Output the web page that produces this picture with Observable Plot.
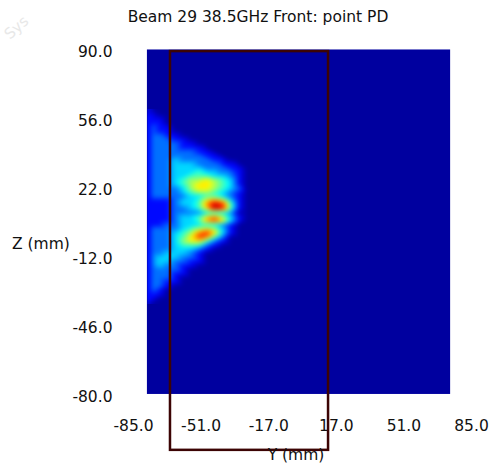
<!DOCTYPE html>
<html><head><meta charset="utf-8">
<script src="https://cdn.jsdelivr.net/npm/d3@7"></script>
<script src="https://cdn.jsdelivr.net/npm/@observablehq/plot@0.6"></script>
<style>body{margin:0;background:#fff;} svg{display:block;}</style>
</head><body><div id="chart"></div>
<script>
const title = "Beam 29 38.5GHz Front: point PD";
const xLabel = "Y (mm)";
const yLabel = "Z (mm)";
const xTicks = [-85, -51, -17, 17, 51, 85];
const yTicks = [-80, -46, -12, 22, 56, 90];
// extent of the field image (mm)
const imageY = [-78, 74.5];
const imageZ = [-78.5, 91];
// extent of the sampled hot region (mm)
const gridY = [-78, -26];
const gridZ = [62, -34];
// power density levels (0-9), rows top to bottom
const gridRows = [
"0000000000000",
"1000000000000",
"1100000000000",
"1100000000000",
"2110000000000",
"2110000000000",
"2211000000000",
"2221100000000",
"2222110000000",
"2222111000000",
"2222221100000",
"2222222110000",
"2223222211000",
"2223332221100",
"2223333222110",
"2223334332210",
"2223344433210",
"2223455654310",
"2223456654310",
"2222356654320",
"2222345543210",
"2222233443210",
"1112334676310",
"1112334798410",
"1112234698410",
"1112222333200",
"1112334675310",
"1112334786310",
"1122333332100",
"2222345653100",
"2223457863100",
"2223468742000",
"2223566421000",
"2223444210000",
"2223332100000",
"2233321000000",
"2333221000000",
"2332211000000",
"2322110000000",
"2222100000000",
"2221100000000",
"2221000000000",
"2211000000000",
"2210000000000",
"2100000000000",
"1100000000000",
"1000000000000",
"0000000000000"
];
// highlighted box (mm)
const boxY = [-66.4, 13.1];
const boxZ = [-106, 90.2];

const gw = gridRows[0].length, gh = gridRows.length;
const samples = gridRows.flatMap((r, j) => Array.from(r, (ch, i) => ({
  y: gridY[0] + (i + 0.5) * (gridY[1] - gridY[0]) / gw,
  z: gridZ[0] + (j + 0.5) * (gridZ[1] - gridZ[0]) / gh,
  v: Number(ch)
})));

const jet = t => {
  const c = v => Math.round(255 * Math.max(0, Math.min(1, v)));
  return `rgb(${c(1.5 - Math.abs(4 * t - 3))},${c(1.5 - Math.abs(4 * t - 2))},${c(1.5 - Math.abs(4 * t - 1))})`;
};

const font = "DejaVu Sans";
const chart = Plot.plot({
  width: 493, height: 466,
  marginLeft: 133, marginRight: 22, marginTop: 51.5, marginBottom: 69,
  style: {fontFamily: font, fontSize: "15.5px", background: "white", color: "#111"},
  x: {domain: [-85, 85], ticks: xTicks, tickFormat: d => d.toFixed(1), tickSize: 0, tickPadding: 22, label: null},
  y: {domain: [-80, 90], ticks: yTicks, tickFormat: d => d.toFixed(1), tickSize: 0, tickPadding: 21, label: null},
  color: {type: "linear", domain: [-0.3, 9.5], interpolate: jet},
  marks: [
    Plot.rect([0], {x1: imageY[0], x2: imageY[1], y1: imageZ[0], y2: imageZ[1], fill: d => d}),
    Plot.raster(samples, {x: "y", y: "z", fill: "v", x1: gridY[0], x2: gridY[1], y1: gridZ[0], y2: gridZ[1],
      interpolate: "barycentric", pixelSize: 1, blur: 2}),
    Plot.rect([0], {x1: boxY[0], x2: boxY[1], y1: boxZ[0], y2: boxZ[1], stroke: "#3c0404", strokeWidth: 2.5, fill: "none", clip: false})
  ]
});
const svg = d3.select(chart);
const addText = (x, y, s, anchor, extra = {}) => {
  const t = svg.append("text").attr("x", x).attr("y", y).attr("text-anchor", anchor)
    .attr("font-family", font).attr("font-size", 15.5).attr("fill", "#111").text(s);
  for (const [k, v] of Object.entries(extra)) t.attr(k, v);
  return t;
};
addText(10, 40, "Sys", "start", {transform: "rotate(-42 10 40)", fill: "#e8e8e8", "font-size": 15});
addText(258, 22, title, "middle");
addText(12, 249, yLabel, "start");
addText(296, 460, xLabel, "middle");
document.getElementById("chart").append(chart);
</script>
</body></html>
